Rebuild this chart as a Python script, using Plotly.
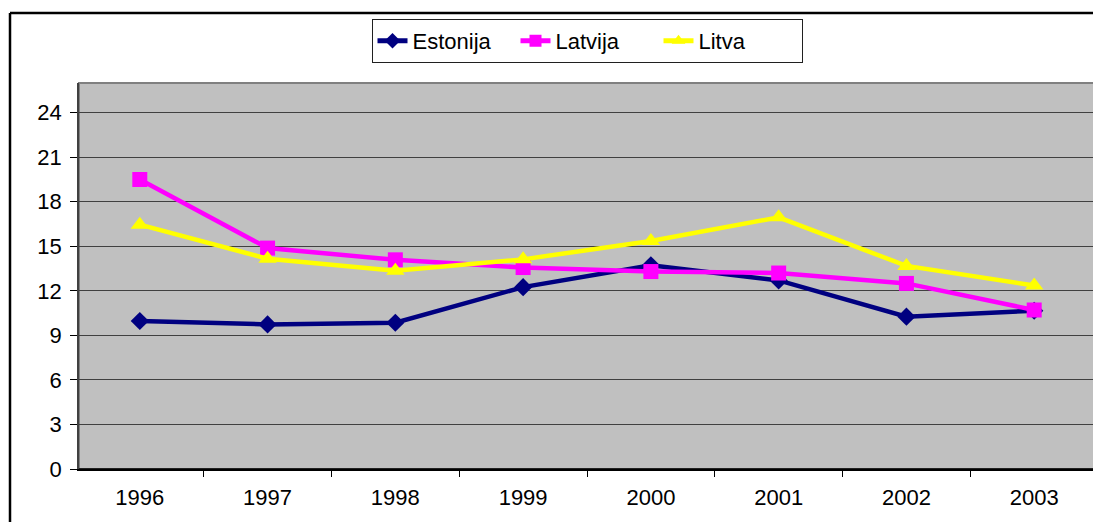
import plotly.graph_objects as go

years = ["1996", "1997", "1998", "1999", "2000", "2001", "2002", "2003"]
estonija = [9.97, 9.74, 9.85, 12.25, 13.72, 12.7, 10.26, 10.66]
latvija = [19.5, 14.88, 14.09, 13.57, 13.3, 13.2, 12.5, 10.71]
litva = [16.46, 14.16, 13.35, 14.12, 15.36, 16.95, 13.68, 12.36]
y_ticks = [0, 3, 6, 9, 12, 15, 18, 21, 24]

OFF = 8  # default body margin of the html page
W, H = 1101 - OFF, 522 - OFF
# plot area in page pixels: left 79, right 1095, top 83, bottom 469
ML = 79 - OFF
MT = 83 - OFF
MR = W - (1095 - OFF)
MB = H - (469 - OFF)
pw, ph = W - ML - MR, H - MT - MB

def px_x(x):
    return (x - OFF - ML) / pw

def px_y(y):
    return (H - MB - (y - OFF)) / ph

fig = go.Figure()
series = [
    ("Estonija", estonija, "#000080", "diamond", 14),
    ("Latvija", latvija, "#FF00FF", "square", 15),
    ("Litva", litva, "#FFFF00", "triangle-up", 16),
]
for name, vals, col, sym, sz in series:
    fig.add_trace(go.Scatter(
        x=years, y=vals, name=name, mode="lines+markers",
        line=dict(color=col, width=4.5),
        marker=dict(color=col, symbol=sym, size=sz, line=dict(width=0)),
    ))

font = dict(family="Liberation Sans, Arial, sans-serif", size=22, color="black")

fig.update_layout(
    width=W, height=H,
    margin=dict(l=ML, r=MR, t=MT, b=MB, pad=0),
    paper_bgcolor="white",
    plot_bgcolor="#C0C0C0",
    font=font,
    showlegend=True,
    legend=dict(
        orientation="h", x=0.5, xanchor="center", y=px_y(19), yanchor="top",
        bordercolor="#202020", borderwidth=1, bgcolor="white",
        font=font, itemsizing="constant", entrywidth=98, entrywidthmode="pixels",
    ),
    xaxis=dict(
        type="category", showgrid=False, showline=True, linecolor="black", linewidth=1.5,
        ticks="outside", tickson="boundaries", ticklen=6, tickcolor="black", tickwidth=1,
        tickfont=font, zeroline=False, ticklabelstandoff=8,
    ),
    yaxis=dict(
        range=[0, 26], tickmode="array", tickvals=y_ticks, ticktext=[str(v) for v in y_ticks],
        showgrid=True, gridcolor="#404040", gridwidth=1,
        showline=True, linecolor="#404040", linewidth=1.5,
        ticks="outside", ticklen=7, tickcolor="black", tickwidth=1,
        tickfont=font, zeroline=False, ticklabelstandoff=4,
    ),
    shapes=[
        dict(type="rect", xref="paper", yref="paper", x0=0, x1=1, y0=0, y1=1,
             line=dict(color="#808080", width=2), fillcolor="rgba(0,0,0,0)", layer="below"),
        dict(type="line", xref="paper", yref="paper", x0=0, x1=1, y0=0, y1=0,
             line=dict(color="black", width=1.5), layer="above"),
        dict(type="line", xref="paper", yref="paper", x0=px_x(10), x1=px_x(1110),
             y0=px_y(13), y1=px_y(13), line=dict(color="black", width=2.5), layer="above"),
        dict(type="line", xref="paper", yref="paper", x0=px_x(10), x1=px_x(10),
             y0=px_y(13), y1=px_y(540), line=dict(color="black", width=2.5), layer="above"),
    ],
)

fig.write_html("out.html")
